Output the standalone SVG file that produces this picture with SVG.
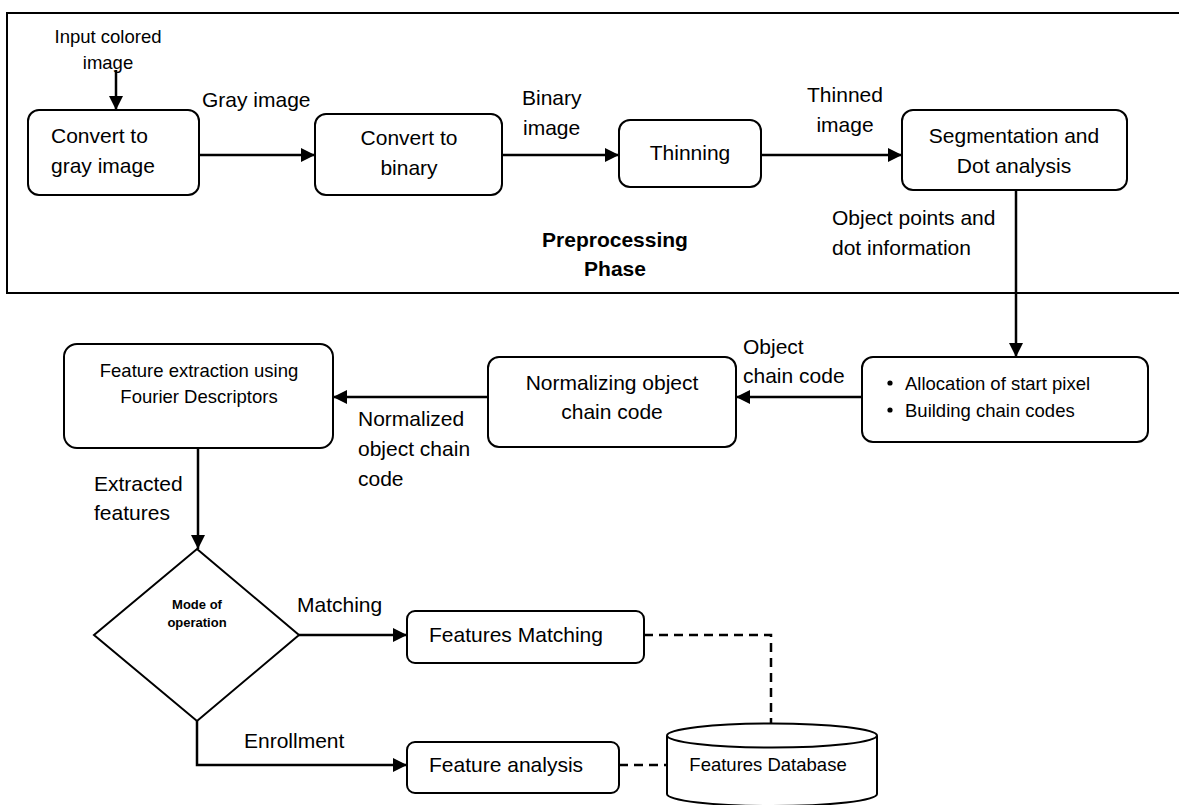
<svg xmlns="http://www.w3.org/2000/svg" width="1179" height="805" viewBox="0 0 1179 805">
<style>
text{font-family:"Liberation Sans",Arial,sans-serif;fill:#000}
.l{font-size:21px}
.s{font-size:18.5px}
.c{text-anchor:middle}
.b{font-weight:bold}
.box{fill:#fff;stroke:#000;stroke-width:2}
.ln{fill:none;stroke:#000;stroke-width:2.5}
.dash{fill:none;stroke:#000;stroke-width:2.5;stroke-dasharray:9,6}
</style>
<defs>
<marker id="ah" markerUnits="userSpaceOnUse" markerWidth="15" markerHeight="15" refX="14" refY="7" orient="auto">
<path d="M0,0 L14,7 L0,14 z" fill="#000"/>
</marker>
</defs>
<rect width="1179" height="805" fill="#fff"/>
<g id="frame">
<rect x="7" y="13" width="1190" height="280" fill="none" stroke="#000" stroke-width="2"/>
<text class="l b c" x="615" y="247">Preprocessing</text>
<text class="l b c" x="615" y="276">Phase</text>
</g>
<g id="connectors">
<line class="ln" x1="116" y1="70" x2="116" y2="110" marker-end="url(#ah)"/>
<line class="ln" x1="199" y1="155" x2="315" y2="155" marker-end="url(#ah)"/>
<line class="ln" x1="502" y1="155" x2="619" y2="155" marker-end="url(#ah)"/>
<line class="ln" x1="761" y1="155" x2="902" y2="155" marker-end="url(#ah)"/>
<line class="ln" x1="1016" y1="190" x2="1016" y2="357" marker-end="url(#ah)"/>
<line class="ln" x1="862" y1="397" x2="736" y2="397" marker-end="url(#ah)"/>
<line class="ln" x1="488" y1="397" x2="333" y2="397" marker-end="url(#ah)"/>
<line class="ln" x1="198" y1="448" x2="198" y2="549" marker-end="url(#ah)"/>
<line class="ln" x1="299" y1="635" x2="407" y2="635" marker-end="url(#ah)"/>
<polyline class="ln" points="197,721 197,765 407,765" marker-end="url(#ah)"/>
<polyline class="dash" points="644,635 771,635 771,724"/>
<line class="dash" x1="619" y1="765" x2="667" y2="765"/>
<text class="s c" x="108" y="43">Input colored</text>
<text class="s c" x="108" y="69">image</text>
<text class="l" x="202" y="107">Gray image</text>
<text class="l" x="522" y="105">Binary</text>
<text class="l" x="523" y="135">image</text>
<text class="l c" x="845" y="102">Thinned</text>
<text class="l c" x="845" y="132">image</text>
<text class="l" x="832" y="225">Object points and</text>
<text class="l" x="832" y="255">dot information</text>
<text class="l" x="743" y="354">Object</text>
<text class="l" x="743" y="383">chain code</text>
<text class="l" x="358" y="426">Normalized</text>
<text class="l" x="358" y="456">object chain</text>
<text class="l" x="358" y="486">code</text>
<text class="l" x="94" y="491">Extracted</text>
<text class="l" x="94" y="520">features</text>
<text class="l" x="297" y="612">Matching</text>
<text class="l" x="244" y="748">Enrollment</text>
</g>
<g id="gray">
<rect class="box" x="28" y="110" width="171" height="85" rx="11"/>
<text class="l" x="51" y="143">Convert to</text>
<text class="l" x="51" y="173">gray image</text>
</g>
<g id="binary">
<rect class="box" x="315" y="114" width="187" height="81" rx="11"/>
<text class="l c" x="409" y="145">Convert to</text>
<text class="l c" x="409" y="175">binary</text>
</g>
<g id="thinning">
<rect class="box" x="619" y="120" width="142" height="67" rx="11"/>
<text class="l c" x="690" y="160">Thinning</text>
</g>
<g id="segmentation">
<rect class="box" x="902" y="110" width="225" height="80" rx="11"/>
<text class="l c" x="1014" y="143">Segmentation and</text>
<text class="l c" x="1014" y="173">Dot analysis</text>
</g>
<g id="allocation">
<rect class="box" x="862" y="357" width="286" height="85" rx="11"/>
<circle cx="890" cy="383" r="2.6"/>
<circle cx="890" cy="410" r="2.6"/>
<text class="s" x="905" y="389.5">Allocation of start pixel</text>
<text class="s" x="905" y="416.5">Building chain codes</text>
</g>
<g id="normalizing">
<rect class="box" x="488" y="357" width="248" height="90" rx="11"/>
<text class="l c" x="612" y="390">Normalizing object</text>
<text class="l c" x="612" y="419">chain code</text>
</g>
<g id="extraction">
<rect class="box" x="64" y="344" width="269" height="104" rx="13"/>
<text class="s c" x="199" y="376.5">Feature extraction using</text>
<text class="s c" x="199" y="402.5">Fourier Descriptors</text>
</g>
<g id="mode">
<polygon points="197,549 299,635 197,721 94,635" fill="#fff" stroke="#000" stroke-width="2"/>
<text class="b c" x="197" y="608.5" font-size="13">Mode of</text>
<text class="b c" x="197" y="626.5" font-size="13">operation</text>
</g>
<g id="matching">
<rect class="box" x="407" y="611" width="237" height="52" rx="8"/>
<text class="l" x="429" y="642">Features Matching</text>
</g>
<g id="analysis">
<rect class="box" x="407" y="742" width="212" height="51" rx="8"/>
<text class="l" x="429" y="772">Feature analysis</text>
</g>
<g id="database">
<path d="M667,736 L667,794 A105,12 0 0 0 877,794 L877,736" fill="#fff" stroke="#000" stroke-width="2"/>
<ellipse cx="772" cy="735.5" rx="105" ry="12" fill="#fff" stroke="#000" stroke-width="2"/>
<text class="s c" x="768" y="770.5">Features Database</text>
</g>
</svg>
